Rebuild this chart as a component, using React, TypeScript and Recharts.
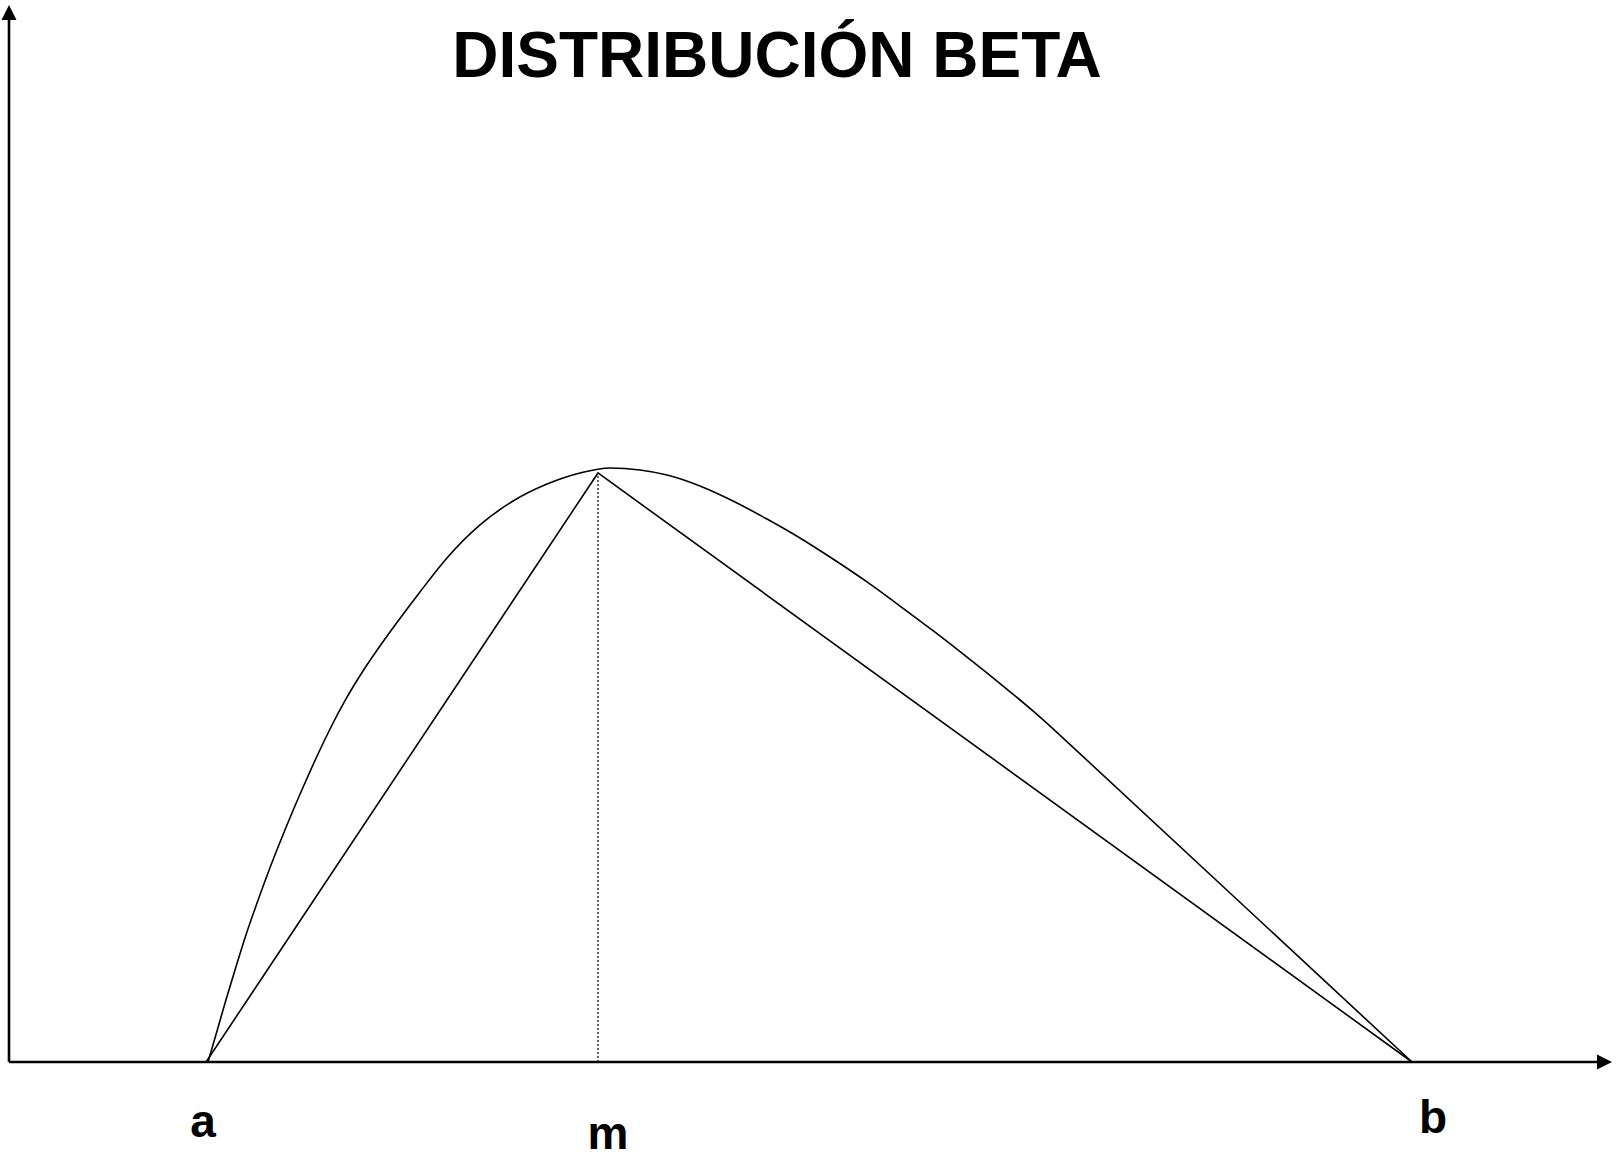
import React from "react"
import { ComposedChart, Line, XAxis, YAxis } from "recharts"

// horizontal units: 0..100 across the plot, vertical units: 0..100 up the plot
const keyX = [12.41, 37.09, 88.35]
const keyLabels = ["a", "m", "b"]

// the beta-shaped curve
const curveX = [
  12.53, 13.1, 13.66, 14.29, 14.92, 15.62, 16.31, 17.07, 17.82, 18.58, 19.4, 20.28,
  21.22, 22.29, 23.36, 24.5, 25.88, 27.58, 29.66, 31.74, 33.88, 35.96, 37.85, 39.74,
  41.44, 43.51, 45.59, 47.73, 49.81, 51.89, 54.03, 56.11, 58.19, 60.33, 62.41, 64.48,
  65.87,
]
const curveY = [
  0, 2.98, 5.95, 9.12, 12.19, 15.26, 18.14, 21.11, 23.9, 26.58, 29.37, 32.15,
  34.84, 37.52, 39.92, 42.32, 45.11, 48.37, 51.54, 53.84, 55.47, 56.53, 57.01, 56.81,
  56.33, 55.28, 53.84, 52.11, 50.29, 48.27, 46.07, 43.76, 41.39, 38.86, 36.32, 33.69,
  31.81,
]
// straight run from the corner down to b
const tailX = [65.87, 88.35]
const tailY = [31.81, 0]

// triangle a - m - b
const triangleX = [12.41, 37.09, 88.35]
const triangleY = [0, 56.53, 0]

// dotted drop from the mode
const modeX = [37.09, 37.09]
const modeY = [0, 56.53]

const zip = (xs: number[], ys: number[]) => xs.map((x, i) => ({ x, y: ys[i] }))

const curveData = zip(curveX, curveY)
const tailData = zip(tailX, tailY)
const triangleData = zip(triangleX, triangleY)
const modeData = zip(modeX, modeY)

const FONT = "'Liberation Sans', Arial, sans-serif"

// where each letter sits relative to its point on the axis
const labelNudge: Record<string, { dx: number; dy: number }> = {
  a: { dx: -3, dy: 75 },
  m: { dx: 10, dy: 87 },
  b: { dx: 21, dy: 71 },
}

function LetterTick({ x, y, index }: any) {
  const label = keyLabels[index]
  const nudge = labelNudge[label] ?? { dx: 0, dy: 40 }
  return (
    <text
      x={x + nudge.dx}
      y={y + nudge.dy}
      textAnchor="middle"
      fontFamily={FONT}
      fontWeight="bold"
      fontSize={46}
      fill="#000"
    >
      {label}
    </text>
  )
}

export default function App() {
  return (
    <div style={{ position: "absolute", left: 0, top: 0, background: "#fff" }}>
      <ComposedChart
        width={1619}
        height={1155}
        margin={{ top: 20, right: 22, left: 0, bottom: 0 }}
      >
        <defs>
          <marker
            id="arrowHead"
            viewBox="0 0 16 16"
            markerWidth={16}
            markerHeight={16}
            refX={0}
            refY={8}
            orient="auto-start-reverse"
            markerUnits="userSpaceOnUse"
          >
            <path d="M0,0.5 L15,8 L0,15.5 Z" fill="#000" />
          </marker>
        </defs>
        <text
          x={777}
          y={76.5}
          textAnchor="middle"
          fontFamily={FONT}
          fontWeight="bold"
          fontSize={64}
          fill="#000"
        >
          DISTRIBUCIÓN BETA
        </text>
        <XAxis
          type="number"
          dataKey="x"
          domain={[0, 100]}
          ticks={keyX}
          interval={0}
          height={93}
          tickSize={0}
          tickMargin={0}
          tickLine={false}
          tick={<LetterTick />}
          axisLine={{ stroke: "#000", strokeWidth: 2.6, markerEnd: "url(#arrowHead)" }}
        />
        <YAxis
          type="number"
          dataKey="y"
          domain={[0, 100]}
          width={9}
          tick={false}
          tickLine={false}
          axisLine={{ stroke: "#000", strokeWidth: 2.6, markerStart: "url(#arrowHead)" }}
        />
        <Line
          data={modeData}
          dataKey="y"
          type="linear"
          stroke="#000"
          strokeWidth={1.2}
          strokeDasharray="2 2"
          dot={false}
          isAnimationActive={false}
        />
        <Line
          data={triangleData}
          dataKey="y"
          type="linear"
          stroke="#000"
          strokeWidth={1.6}
          dot={false}
          isAnimationActive={false}
        />
        <Line
          data={curveData}
          dataKey="y"
          type="monotone"
          stroke="#000"
          strokeWidth={1.6}
          dot={false}
          isAnimationActive={false}
        />
        <Line
          data={tailData}
          dataKey="y"
          type="linear"
          stroke="#000"
          strokeWidth={1.6}
          dot={false}
          isAnimationActive={false}
        />
      </ComposedChart>
    </div>
  )
}
